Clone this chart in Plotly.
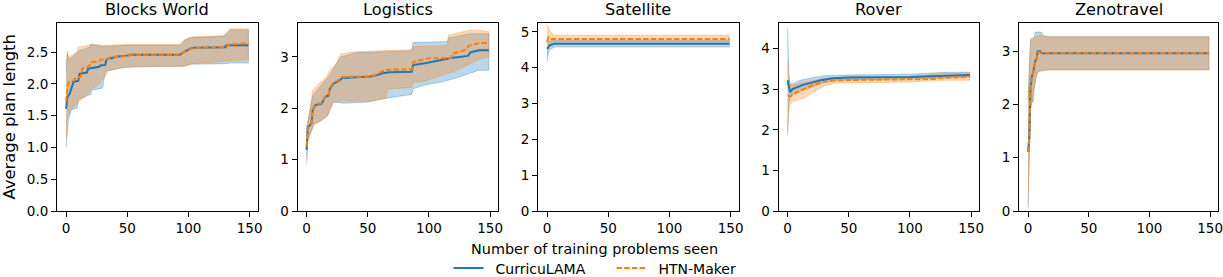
import plotly.graph_objects as go

# ---------------- data ----------------
panel_titles = ["Blocks World", "Logistics", "Satellite", "Rover", "Zenotravel"]
series_names = ["CurricuLAMA", "HTN-Maker"]
x_ticks = [0, 50, 100, 150]

# Blocks World
bw_cur_x = [0, 1, 3, 5, 6, 10, 11, 17, 18, 27, 28, 32, 33, 40, 41, 51, 52, 93, 96, 101, 104, 130, 131, 149]
bw_cur_y = [1.61, 1.79, 1.85, 1.95, 2.03, 2.05, 2.16, 2.18, 2.24, 2.27, 2.29, 2.30, 2.39, 2.42, 2.43, 2.45, 2.46, 2.46, 2.50, 2.55, 2.57, 2.58, 2.61, 2.61]
bw_htn_x = [0, 1, 2, 6, 7, 12, 13, 19, 20, 27, 28, 35, 36, 51, 52, 93, 96, 101, 104, 131, 133, 149]
bw_htn_y = [1.72, 1.95, 2.03, 2.05, 2.08, 2.12, 2.24, 2.28, 2.34, 2.36, 2.38, 2.40, 2.42, 2.44, 2.46, 2.46, 2.50, 2.55, 2.57, 2.58, 2.62, 2.64]
bw_cur_hi_x = [0, 1, 2, 5, 10, 19, 20, 30, 50, 93, 97, 102, 129, 134, 149]
bw_cur_hi_y = [2.20, 2.48, 2.38, 2.42, 2.52, 2.58, 2.62, 2.59, 2.61, 2.61, 2.69, 2.73, 2.75, 2.85, 2.85]
bw_cur_lo_x = [0, 2, 4, 5, 9, 10, 16, 17, 20, 21, 29, 30, 31, 32, 45, 55, 95, 102, 130, 135, 149]
bw_cur_lo_y = [1.01, 1.44, 1.58, 1.60, 1.62, 1.76, 1.80, 1.82, 1.83, 1.90, 1.93, 1.95, 2.10, 2.20, 2.25, 2.27, 2.28, 2.31, 2.32, 2.33, 2.33]
bw_htn_hi_x = [0, 1, 2, 5, 9, 10, 19, 20, 30, 50, 93, 97, 102, 129, 134, 149]
bw_htn_hi_y = [2.30, 2.52, 2.42, 2.45, 2.50, 2.58, 2.61, 2.63, 2.61, 2.62, 2.62, 2.70, 2.74, 2.76, 2.87, 2.87]
bw_htn_lo_x = [0, 1, 3, 5, 11, 12, 19, 20, 28, 29, 33, 34, 50, 98, 102, 139, 149]
bw_htn_lo_y = [1.13, 1.48, 1.56, 1.62, 1.72, 1.75, 1.86, 1.90, 2.02, 2.06, 2.15, 2.21, 2.27, 2.28, 2.32, 2.37, 2.38]

# Logistics
lg_cur_x = [0, 1, 2, 4, 5, 7, 12, 13, 15, 18, 19, 22, 27, 29, 52, 57, 62, 68, 86, 87, 98, 109, 118, 132, 134, 141, 149]
lg_cur_y = [1.19, 1.64, 1.65, 1.71, 1.97, 2.06, 2.09, 2.12, 2.22, 2.25, 2.38, 2.48, 2.54, 2.59, 2.62, 2.64, 2.68, 2.70, 2.71, 2.84, 2.88, 2.93, 2.98, 3.02, 3.09, 3.13, 3.13]
lg_htn_x = [0, 1, 2, 4, 5, 7, 12, 13, 15, 18, 19, 22, 27, 29, 52, 57, 62, 66, 86, 87, 99, 118, 119, 129, 133, 141, 149]
lg_htn_y = [1.25, 1.62, 1.65, 1.72, 1.99, 2.08, 2.10, 2.14, 2.22, 2.27, 2.40, 2.50, 2.56, 2.61, 2.62, 2.66, 2.72, 2.75, 2.76, 2.90, 2.97, 2.98, 3.06, 3.13, 3.22, 3.27, 3.27]
lg_cur_hi_x = [0, 1, 3, 5, 11, 16, 19, 24, 28, 40, 61, 86, 87, 115, 116, 133, 149]
lg_cur_hi_y = [1.60, 1.75, 2.00, 2.25, 2.42, 2.55, 2.65, 2.85, 3.00, 3.08, 3.10, 3.12, 3.28, 3.30, 3.37, 3.45, 3.45]
lg_cur_lo_x = [0, 1, 3, 6, 12, 17, 20, 22, 30, 50, 66, 86, 87, 96, 110, 121, 141, 149]
lg_cur_lo_y = [1.00, 1.40, 1.50, 1.70, 1.77, 1.85, 2.05, 2.12, 2.10, 2.12, 2.20, 2.27, 2.38, 2.45, 2.51, 2.58, 2.74, 2.74]
lg_htn_hi_x = [0, 1, 3, 5, 11, 16, 19, 24, 28, 40, 61, 86, 87, 115, 116, 133, 141, 149]
lg_htn_hi_y = [1.45, 1.75, 2.00, 2.35, 2.50, 2.60, 2.74, 2.87, 3.06, 3.10, 3.12, 3.14, 3.20, 3.22, 3.42, 3.52, 3.52, 3.49]
lg_htn_lo_x = [0, 1, 3, 6, 12, 17, 20, 22, 30, 50, 65, 66, 86, 87, 96, 110, 121, 141, 149]
lg_htn_lo_y = [0.89, 1.35, 1.50, 1.68, 1.75, 1.85, 2.00, 2.12, 2.15, 2.13, 2.20, 2.38, 2.40, 2.50, 2.52, 2.64, 2.72, 2.95, 3.00]

# Satellite
st_cur_x = [0, 1, 2, 4, 6, 149]
st_cur_y = [4.53, 4.58, 4.62, 4.65, 4.67, 4.67]
st_htn_x = [0, 1, 2, 4, 149]
st_htn_y = [4.72, 4.85, 4.82, 4.80, 4.80]
st_cur_hi_x = [0, 1, 2, 4, 6, 149]
st_cur_hi_y = [4.72, 4.72, 4.74, 4.76, 4.77, 4.77]
st_cur_lo_x = [0, 1, 2, 4, 6, 149]
st_cur_lo_y = [4.16, 4.40, 4.50, 4.55, 4.58, 4.58]
st_htn_hi_x = [0, 1, 2, 4, 6, 149]
st_htn_hi_y = [5.20, 5.15, 5.02, 4.95, 4.91, 4.91]
st_htn_lo_x = [0, 1, 2, 4, 6, 149]
st_htn_lo_y = [4.30, 4.55, 4.65, 4.70, 4.72, 4.72]

# Rover
rv_cur_x = [0, 2, 4, 8, 12, 18, 27, 37, 50, 100, 125, 149]
rv_cur_y = [3.22, 2.93, 3.00, 3.05, 3.10, 3.15, 3.22, 3.27, 3.29, 3.30, 3.33, 3.35]
rv_htn_x = [0, 2, 5, 10, 15, 20, 30, 40, 60, 120, 125, 149]
rv_htn_y = [2.85, 2.82, 2.88, 2.95, 3.03, 3.10, 3.18, 3.22, 3.23, 3.25, 3.28, 3.30]
rv_cur_hi_x = [0, 1, 2, 5, 10, 20, 30, 50, 100, 125, 149]
rv_cur_hi_y = [4.52, 3.40, 3.10, 3.15, 3.22, 3.28, 3.33, 3.35, 3.37, 3.41, 3.42]
rv_cur_lo_x = [0, 1, 2, 5, 10, 20, 30, 40, 100, 125, 149]
rv_cur_lo_y = [1.87, 2.60, 2.82, 2.88, 2.95, 3.05, 3.17, 3.22, 3.25, 3.28, 3.30]
rv_htn_hi_x = [0, 1, 2, 5, 10, 20, 30, 50, 100, 125, 149]
rv_htn_hi_y = [3.71, 3.30, 3.15, 3.10, 3.15, 3.20, 3.27, 3.30, 3.30, 3.38, 3.40]
rv_htn_lo_x = [0, 1, 2, 5, 10, 15, 20, 30, 40, 100, 125, 149]
rv_htn_lo_y = [1.95, 2.50, 2.62, 2.70, 2.75, 2.80, 2.92, 3.08, 3.15, 3.18, 3.22, 3.22]

# Zenotravel
zt_cur_x = [0, 1, 2, 3, 4, 5, 6, 7, 8, 10, 11, 149]
zt_cur_y = [1.11, 1.36, 2.30, 2.52, 2.58, 2.70, 2.82, 2.85, 3.00, 3.00, 2.96, 2.96]
zt_htn_x = [0, 1, 2, 3, 4, 5, 6, 7, 8, 10, 11, 149]
zt_htn_y = [1.11, 1.38, 2.28, 2.50, 2.57, 2.70, 2.80, 2.85, 2.98, 2.98, 2.96, 2.96]
zt_cur_hi_x = [0, 1, 2, 3, 5, 6, 11, 12, 16, 149]
zt_cur_hi_y = [2.10, 2.90, 3.22, 3.24, 3.26, 3.36, 3.36, 3.30, 3.27, 3.27]
zt_cur_lo_x = [0, 1, 2, 3, 4, 5, 6, 7, 8, 16, 149]
zt_cur_lo_y = [0.05, 0.85, 1.90, 2.02, 2.05, 2.30, 2.40, 2.55, 2.62, 2.65, 2.65]
zt_htn_hi_x = [0, 1, 2, 3, 5, 7, 10, 16, 149]
zt_htn_hi_y = [2.05, 2.85, 3.20, 3.22, 3.25, 3.28, 3.30, 3.27, 3.27]
zt_htn_lo_x = [0, 1, 2, 3, 4, 5, 6, 7, 8, 16, 149]
zt_htn_lo_y = [0.15, 0.90, 1.95, 2.05, 2.05, 2.30, 2.40, 2.55, 2.62, 2.65, 2.65]

y_maxes = [2.96, 3.66, 5.25, 4.63, 3.53]
y_tick_vals = [[0, 0.5, 1.0, 1.5, 2.0, 2.5], [0, 1, 2, 3], [0, 1, 2, 3, 4, 5], [0, 1, 2, 3, 4], [0, 1, 2, 3]]
y_tick_text = [["0.0", "0.5", "1.0", "1.5", "2.0", "2.5"], ["0", "1", "2", "3"], ["0", "1", "2", "3", "4", "5"], ["0", "1", "2", "3", "4"], ["0", "1", "2", "3"]]

panels = [
    dict(cur=(bw_cur_x, bw_cur_y), htn=(bw_htn_x, bw_htn_y),
         cur_hi=(bw_cur_hi_x, bw_cur_hi_y), cur_lo=(bw_cur_lo_x, bw_cur_lo_y),
         htn_hi=(bw_htn_hi_x, bw_htn_hi_y), htn_lo=(bw_htn_lo_x, bw_htn_lo_y)),
    dict(cur=(lg_cur_x, lg_cur_y), htn=(lg_htn_x, lg_htn_y),
         cur_hi=(lg_cur_hi_x, lg_cur_hi_y), cur_lo=(lg_cur_lo_x, lg_cur_lo_y),
         htn_hi=(lg_htn_hi_x, lg_htn_hi_y), htn_lo=(lg_htn_lo_x, lg_htn_lo_y)),
    dict(cur=(st_cur_x, st_cur_y), htn=(st_htn_x, st_htn_y),
         cur_hi=(st_cur_hi_x, st_cur_hi_y), cur_lo=(st_cur_lo_x, st_cur_lo_y),
         htn_hi=(st_htn_hi_x, st_htn_hi_y), htn_lo=(st_htn_lo_x, st_htn_lo_y)),
    dict(cur=(rv_cur_x, rv_cur_y), htn=(rv_htn_x, rv_htn_y),
         cur_hi=(rv_cur_hi_x, rv_cur_hi_y), cur_lo=(rv_cur_lo_x, rv_cur_lo_y),
         htn_hi=(rv_htn_hi_x, rv_htn_hi_y), htn_lo=(rv_htn_lo_x, rv_htn_lo_y)),
    dict(cur=(zt_cur_x, zt_cur_y), htn=(zt_htn_x, zt_htn_y),
         cur_hi=(zt_cur_hi_x, zt_cur_hi_y), cur_lo=(zt_cur_lo_x, zt_cur_lo_y),
         htn_hi=(zt_htn_hi_x, zt_htn_hi_y), htn_lo=(zt_htn_lo_x, zt_htn_lo_y)),
]

# ---------------- style ----------------
BLUE = "#1f77b4"
ORANGE = "#ff7f0e"
BLUE_FILL = "rgba(31,119,180,0.3)"
ORANGE_FILL = "rgba(255,127,14,0.3)"
FONT = "DejaVu Sans"

W, H = 1223, 277
ML, MR, MT, MB = 57, 5, 23, 66
PW = W - ML - MR
PH = H - MT - MB
STEP = 240.5
AXW = 200.5

fig = go.Figure()


def band(hi, lo, fill, axis_idx):
    hx, hy = hi
    lx, ly = lo
    xs = list(hx) + list(lx)[::-1]
    ys = list(hy) + list(ly)[::-1]
    sfx = "" if axis_idx == 0 else str(axis_idx + 1)
    return go.Scatter(x=xs, y=ys, mode="lines", fill="toself", fillcolor=fill,
                      line=dict(color=fill, width=1), hoverinfo="skip",
                      showlegend=False, xaxis="x" + sfx, yaxis="y" + sfx)


for i, p in enumerate(panels):
    fig.add_trace(band(p["cur_hi"], p["cur_lo"], BLUE_FILL, i))
    fig.add_trace(band(p["htn_hi"], p["htn_lo"], ORANGE_FILL, i))
for i, p in enumerate(panels):
    sfx = "" if i == 0 else str(i + 1)
    fig.add_trace(go.Scatter(x=p["cur"][0], y=p["cur"][1], mode="lines",
                             line=dict(color=BLUE, width=2),
                             name="\u2002" + series_names[0],
                             legendgroup="cur", showlegend=(i == 0),
                             xaxis="x" + sfx, yaxis="y" + sfx))
for i, p in enumerate(panels):
    sfx = "" if i == 0 else str(i + 1)
    fig.add_trace(go.Scatter(x=p["htn"][0], y=p["htn"][1], mode="lines",
                             line=dict(color=ORANGE, width=2, dash="5.5px,2.2px"),
                             name="\u2002" + series_names[1],
                             legendgroup="htn", showlegend=(i == 0),
                             xaxis="x" + sfx, yaxis="y" + sfx))

legend_left_px = 448.5
layout = dict(
    width=W, height=H,
    margin=dict(l=ML, r=MR, t=MT, b=MB, autoexpand=False),
    paper_bgcolor="white", plot_bgcolor="white",
    font=dict(family=FONT, size=13, color="black"),
    showlegend=True,
    legend=dict(orientation="h", x=(legend_left_px - ML) / PW, xanchor="left",
                y=(MT + PH - 268.5) / PH, yanchor="middle",
                font=dict(family=FONT, size=14, color="black"),
                bgcolor="rgba(0,0,0,0)", itemwidth=30, tracegroupgap=0,
                entrywidth=118, entrywidthmode="pixels"),
)
annotations = []
for i in range(5):
    sfx = "" if i == 0 else str(i + 1)
    d0 = (STEP * i) / PW
    d1 = min((STEP * i + AXW) / PW, 1.0)
    layout["xaxis" + sfx] = dict(
        domain=[d0, d1], range=[-7.45, 156.45], anchor="y" + sfx,
        tickvals=x_ticks, ticktext=[str(v) for v in x_ticks],
        ticks="outside", ticklen=5, tickwidth=1, tickcolor="black",
        ticklabeloverflow="allow",
        showline=True, linecolor="black", linewidth=1, mirror=True,
        showgrid=False, zeroline=False, tickfont=dict(size=13.5))
    layout["yaxis" + sfx] = dict(
        domain=[0, 1], range=[0, y_maxes[i]], anchor="x" + sfx,
        tickvals=y_tick_vals[i], ticktext=y_tick_text[i],
        ticks="outside", ticklen=5, tickwidth=1, tickcolor="black",
        ticklabeloverflow="allow",
        showline=True, linecolor="black", linewidth=1, mirror=True,
        showgrid=False, zeroline=False, tickfont=dict(size=13.5))
    annotations.append(dict(text=panel_titles[i], xref="paper", yref="paper",
                            x=(d0 + d1) / 2, y=1, xanchor="center", yanchor="bottom",
                            yshift=2, showarrow=False,
                            font=dict(family=FONT, size=16.2, color="black")))

annotations.append(dict(text="Number of training problems seen", xref="paper", yref="paper",
                        x=(594 - ML) / PW, y=(MT + PH - 249) / PH,
                        xanchor="center", yanchor="middle", showarrow=False,
                        font=dict(family=FONT, size=14.4, color="black")))
annotations.append(dict(text="Average plan length", xref="paper", yref="paper",
                        x=(8.5 - ML) / PW, y=(MT + PH - 117) / PH, textangle=-90,
                        xanchor="center", yanchor="middle", showarrow=False,
                        font=dict(family=FONT, size=16.4, color="black")))
layout["annotations"] = annotations
fig.update_layout(**layout)

fig.write_html("out.html", config={"displayModeBar": False},
               post_script="document.body.style.margin='0px';document.body.style.padding='0px';")
